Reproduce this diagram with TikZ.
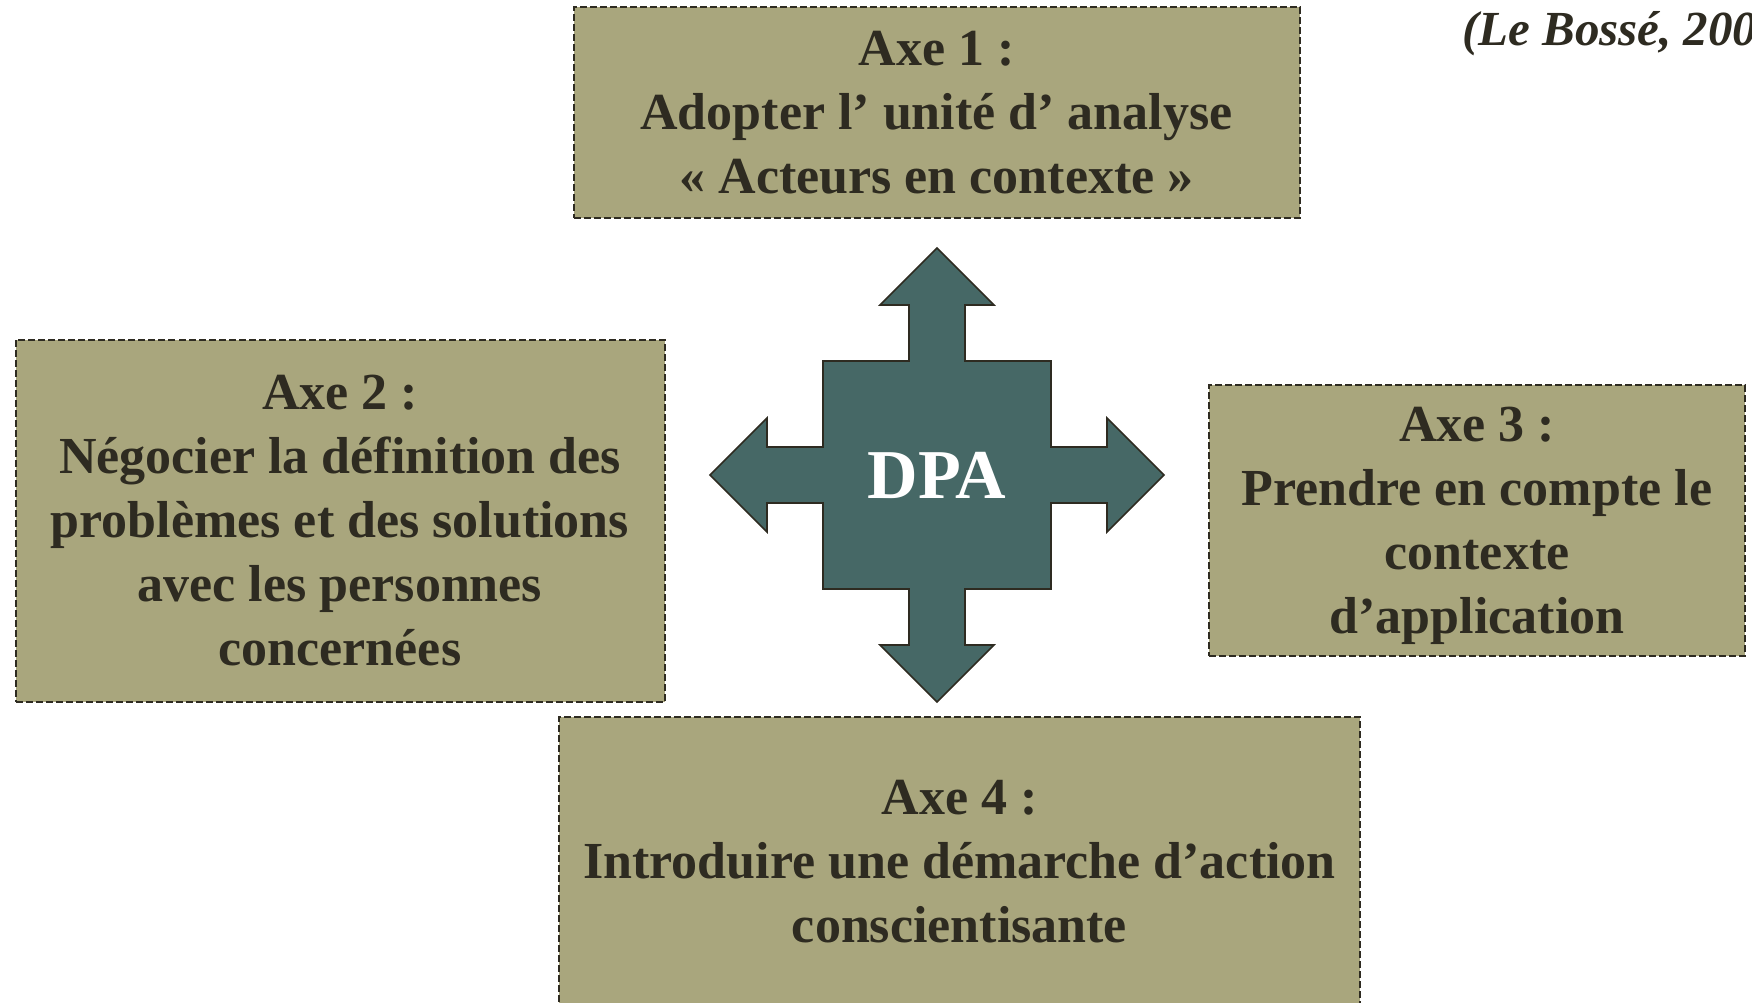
\documentclass[tikz,border=0pt]{standalone}
\usepackage{fontspec}
\setmainfont{Liberation Serif}
\usepackage{tikz}
\definecolor{khaki}{HTML}{A9A67D}
\definecolor{slate}{HTML}{466866}
\definecolor{ink}{HTML}{2E2B21}
\tikzset{axe/.style={draw=ink, line width=1pt, dash pattern=on 3.5pt off 1.5pt,
   fill=khaki, text=ink, font=\bfseries\fontsize{26}{32}\selectfont,
   align=center, inner sep=0pt},
 cross/.style={draw=ink, line width=0.8pt, fill=slate},
 dpatext/.style={text=white, font=\bfseries\fontsize{35}{40}\selectfont},
 cite/.style={anchor=base west, text=ink, font=\bfseries\itshape\fontsize{24.5}{28}\selectfont},
 }
\newcommand{\nodepth}[1]{\raisebox{0pt}[\height][0pt]{#1}}

\begin{document}
\begin{tikzpicture}[x=0.5pt, y=-0.5pt]
        \useasboundingbox (0,0) rectangle (1752,1002);
        \clip (0,0) rectangle (1752,1002);
        \node[axe, minimum width=363pt, minimum height=105.5pt] (axe1) at (936.5,112.5)
            {Axe 1 :\\Adopter l’ unité d’ analyse\\« Acteurs en contexte »};
        \node[axe, minimum width=324.5pt, minimum height=181pt] (axe2) at (340,521)
            {Axe 2 :\\Négocier la définition des\\problèmes et des solutions\\avec les personnes\\concernées};
        \node[axe, minimum width=268pt, minimum height=135.5pt] (axe3) at (1477,520.5)
            {Axe 3 :\\Prendre en compte le\\contexte\\\nodepth{d’application}};
        \node[axe, minimum width=400.5pt, minimum height=145pt] (axe4) at (959.5,862)
            {Axe 4 :\\Introduire une démarche d’action\\conscientisante};
        \draw[cross, shift={(937,475)}] (0,-227) -- (57,-170) -- (28,-170) -- (28,-114)
            -- (114,-114) -- (114,-28) -- (170,-28) -- (170,-57) -- (227,0)
            -- (170,57) -- (170,28) -- (114,28) -- (114,114) -- (28,114)
            -- (28,170) -- (57,170) -- (0,227) -- (-57,170) -- (-28,170)
            -- (-28,114) -- (-114,114) -- (-114,28) -- (-170,28) -- (-170,57)
            -- (-227,0) -- (-170,-57) -- (-170,-28) -- (-114,-28) -- (-114,-114)
            -- (-28,-114) -- (-28,-170) -- (-57,-170) -- cycle;
        \node[dpatext] (dpa) at (937,475) {DPA};
        \node[cite] (ref) at (1455,45) {(Le Bossé, 200};
    \end{tikzpicture}
\end{document}
